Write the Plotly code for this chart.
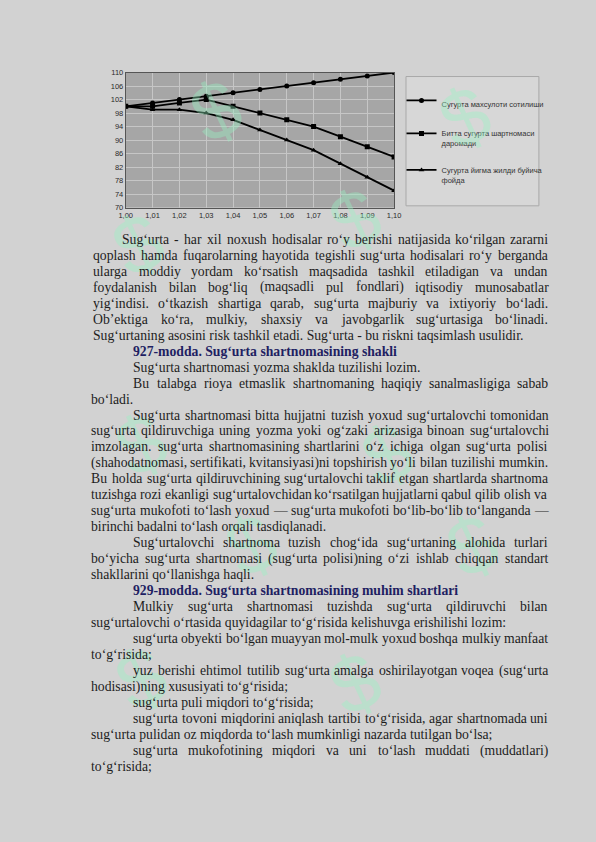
import plotly.graph_objects as go

W, H = 596, 842

# chart data
x_vals = [1.00, 1.01, 1.02, 1.03, 1.04, 1.05, 1.06, 1.07, 1.08, 1.09, 1.10]
x_labels = ["1,00", "1,01", "1,02", "1,03", "1,04", "1,05", "1,06", "1,07", "1,08", "1,09", "1,10"]
y_ticks = [70, 74, 78, 82, 86, 90, 94, 98, 102, 106, 110]
sales = [100, 101, 102, 103, 104, 105, 106, 107, 108, 109, 110]
contract_income = [100, 100, 101, 102, 100, 98, 96, 94, 91, 88, 85]
fund_profit = [100, 99, 99, 98, 96, 93, 90, 87, 83, 79, 75]
series_names = ["Сугурта махсулоти сотилиши",
                "Битта сугурта шартномаси<br>даромади",
                "Сугурта йигма жилди буйича<br>фойда"]

# page text: (text, paragraph start?, justified?, bold?)
page_lines = [
    ("Sug‘urta - har xil noxush hodisalar ro‘y berishi natijasida ko‘rilgan zararni", "first", True, False),
    ("qoplash hamda fuqarolarning hayotida tegishli sug‘urta hodisalari ro‘y berganda", "p1", True, False),
    ("ularga moddiy yordam ko‘rsatish maqsadida tashkil etiladigan va undan", "p1", True, False),
    ("foydalanish bilan bog‘liq (maqsadli pul fondlari) iqtisodiy munosabatlar", "p1", True, False),
    ("yig‘indisi. o‘tkazish shartiga qarab, sug‘urta majburiy va ixtiyoriy bo‘ladi.", "p1", True, False),
    ("Ob’ektiga ko‘ra, mulkiy, shaxsiy va javobgarlik sug‘urtasiga bo‘linadi.", "p1", True, False),
    ("Sug‘urtaning asosini risk tashkil etadi. Sug‘urta - bu riskni taqsimlash usulidir.", "p1", False, False),
    ("927-modda. Sug‘urta shartnomasining shakli", "indent", False, True),
    ("Sug‘urta shartnomasi yozma shaklda tuzilishi lozim.", "indent", False, False),
    ("Bu talabga rioya etmaslik shartnomaning haqiqiy sanalmasligiga sabab", "indent", True, False),
    ("bo‘ladi.", "", False, False),
    ("Sug‘urta shartnomasi bitta hujjatni tuzish yoxud sug‘urtalovchi tomonidan", "indent", True, False),
    ("sug‘urta qildiruvchiga uning yozma yoki og‘zaki arizasiga binoan sug‘urtalovchi", "", True, False),
    ("imzolagan. sug‘urta shartnomasining shartlarini o‘z ichiga olgan sug‘urta polisi", "", True, False),
    ("(shahodatnomasi, sertifikati, kvitansiyasi)ni topshirish yo‘li bilan tuzilishi mumkin.", "", True, False),
    ("Bu holda sug‘urta qildiruvchining sug‘urtalovchi taklif etgan shartlarda shartnoma", "", True, False),
    ("tuzishga rozi ekanligi sug‘urtalovchidan ko‘rsatilgan hujjatlarni qabul qilib olish va", "", True, False),
    ("sug‘urta mukofoti to‘lash yoxud — sug‘urta mukofoti bo‘lib-bo‘lib to‘langanda —", "", True, False),
    ("birinchi badalni to‘lash orqali tasdiqlanadi.", "", False, False),
    ("Sug‘urtalovchi shartnoma tuzish chog‘ida sug‘urtaning alohida turlari", "indent", True, False),
    ("bo‘yicha sug‘urta shartnomasi (sug‘urta polisi)ning o‘zi ishlab chiqqan standart", "", True, False),
    ("shakllarini qo‘llanishga haqli.", "", False, False),
    ("929-modda. Sug‘urta shartnomasining muhim shartlari", "indent", False, True),
    ("Mulkiy sug‘urta shartnomasi tuzishda sug‘urta qildiruvchi bilan", "indent", True, False),
    ("sug‘urtalovchi o‘rtasida quyidagilar to‘g‘risida kelishuvga erishilishi lozim:", "", False, False),
    ("sug‘urta obyekti bo‘lgan muayyan mol-mulk yoxud boshqa mulkiy manfaat", "indent", True, False),
    ("to‘g‘risida;", "", False, False),
    ("yuz berishi ehtimol tutilib sug‘urta amalga oshirilayotgan voqea (sug‘urta", "indent", True, False),
    ("hodisasi)ning xususiyati to‘g‘risida;", "", False, False),
    ("sug‘urta puli miqdori to‘g‘risida;", "indent", False, False),
    ("sug‘urta tovoni miqdorini aniqlash tartibi to‘g‘risida, agar shartnomada uni", "indent", True, False),
    ("sug‘urta pulidan oz miqdorda to‘lash mumkinligi nazarda tutilgan bo‘lsa;", "", False, False),
    ("sug‘urta mukofotining miqdori va uni to‘lash muddati (muddatlari)", "indent", True, False),
    ("to‘g‘risida;", "", False, False),
]

# Times / Liberation Serif advance widths (1/1000 em), for justifying lines
CW = dict(zip("abcdefghijklmnopqrstuvwxyz",
              [444, 500, 444, 500, 444, 333, 500, 500, 278, 278, 500, 278, 778,
               500, 500, 500, 500, 333, 389, 278, 500, 500, 722, 500, 500, 444]))
CW.update(zip("ABCDEFGHIJKLMNOPQRSTUVWXYZ",
              [722, 667, 667, 722, 611, 556, 722, 722, 333, 389, 722, 611, 889,
               722, 722, 556, 722, 667, 556, 611, 722, 722, 944, 722, 722, 611]))
CW.update({c: 500 for c in "0123456789"})
CW.update({" ": 250, ".": 250, ",": 250, "-": 333, "(": 333, ")": 333, ";": 278,
           ":": 278, "‘": 333, "’": 333, "—": 1000})


def text_w(s, size):
    return sum(CW.get(c, 500) for c in s) / 1000 * size


FS = 13.7
LEFT, LEFT_P1, RIGHT = 85.5, 87.5, 552.0
TEXT_COL, HEAD_COL = "#1d1d1d", "#1f1f62"

fig = go.Figure()
markers = ["circle", "square", "triangle-up"]
for name, vals, sym in zip(series_names, [sales, contract_income, fund_profit], markers):
    fig.add_trace(go.Scatter(
        x=x_vals, y=vals, name=name, mode="lines+markers",
        line=dict(color="black", width=1.8),
        marker=dict(symbol=sym, size=5, color="black"),
        legendgroup=name,
    ))

annotations = []

# faint green watermarks
for wx, wy in [(92, 190), (400, 165), (215, 55), (512, 62), (95, 445),
               (390, 455), (95, 735), (400, 740), (250, 600), (520, 600)]:
    annotations.append(dict(
        x=wx / W, y=1 - wy / H, xref="paper", yref="paper", text="$",
        showarrow=False, textangle=-25,
        font=dict(family="Liberation Sans", size=80, color="rgba(150,245,195,0.38)"),
    ))

for i, (txt, kind, justified, bold) in enumerate(page_lines):
    y = 1 - (237.8 + 16.15 * i) / H
    if kind == "first":
        left = 116.5
    elif kind == "indent":
        left = 128.0
    elif kind == "p1":
        left = LEFT_P1
    else:
        left = LEFT
    font = dict(family="Liberation Serif", size=FS, color=HEAD_COL if bold else TEXT_COL)
    if bold:
        txt_html = "<b>" + txt + "</b>"
    else:
        txt_html = txt
    if not justified:
        annotations.append(dict(x=left / W, y=y, xref="paper", yref="paper", text=txt_html,
                                showarrow=False, xanchor="left", yanchor="middle",
                                font=font, borderpad=0))
        continue
    words = txt.split(" ")
    fs = FS
    natural = sum(text_w(w, fs) for w in words)
    min_gap = 0.26 * FS
    if natural + min_gap * (len(words) - 1) > RIGHT - left:
        # tight line: shrink the type a touch so words keep a normal space
        fs = FS * (RIGHT - left - min_gap * (len(words) - 1)) / natural
        natural = sum(text_w(w, fs) for w in words)
        font["size"] = fs
    gap = (RIGHT - left - natural) / (len(words) - 1)
    xpos = left
    for w in words:
        annotations.append(dict(x=xpos / W, y=y, xref="paper", yref="paper", text=w,
                                showarrow=False, xanchor="left", yanchor="middle",
                                font=font, borderpad=0))
        xpos += text_w(w, fs) + gap

# legend frame
shapes = [dict(type="rect", xref="paper", yref="paper",
               x0=408.6 / W, x1=544.7 / W, y0=1 - 204 / H, y1=1 - 73.3 / H,
               fillcolor="#d7d7d7", line=dict(color="#a9a9a9", width=1), layer="below")]

axis_font = dict(family="Liberation Sans", size=7.5, color="#2a2a2a")
fig.update_layout(
    width=W, height=H,
    margin=dict(l=0, r=0, t=0, b=0),
    paper_bgcolor="#d2d2d2",
    plot_bgcolor="#a6a6a6",
    showlegend=True,
    legend=dict(x=404 / W, y=1 - 86 / H, xanchor="left", yanchor="top", valign="top",
                bgcolor="rgba(0,0,0,0)", borderwidth=0, tracegroupgap=14,
                itemwidth=30, font=dict(family="Liberation Sans", size=7.5, color="#333333")),
    xaxis=dict(domain=[121.6 / W, 396.4 / W], range=[1.0, 1.1],
               tickvals=x_vals, ticktext=x_labels, tickfont=axis_font,
               showgrid=True, gridcolor="#c6c6c6", gridwidth=1,
               showline=True, linecolor="#555555", linewidth=1, mirror=True,
               zeroline=False, ticks=""),
    yaxis=dict(domain=[1 - 205.7 / H, 1 - 69.3 / H], range=[70, 110],
               tickvals=y_ticks, tickfont=axis_font,
               showgrid=True, gridcolor="#c6c6c6", gridwidth=1,
               showline=True, linecolor="#555555", linewidth=1, mirror=True,
               zeroline=False, ticks=""),
    annotations=annotations,
    shapes=shapes,
)

fig.write_html("out.html", config={"displayModeBar": False},
               post_script="document.body.style.margin='0';"
                           "document.documentElement.style.overflow='hidden';"
                           "document.body.style.overflow='hidden';")
